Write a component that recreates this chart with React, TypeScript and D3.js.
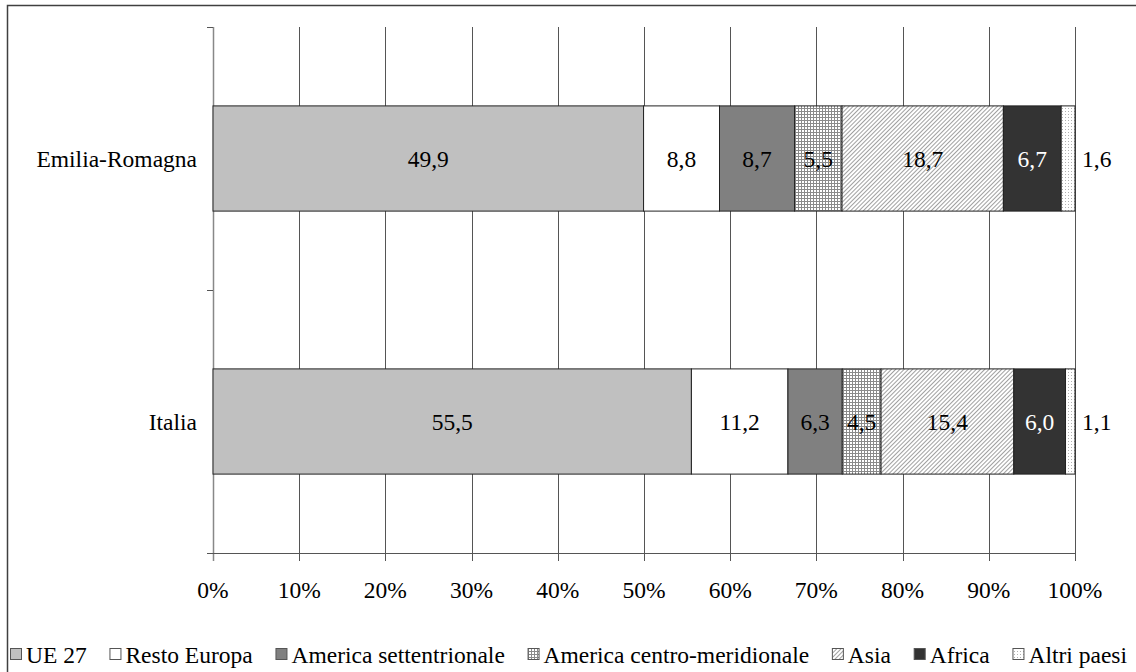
import React, { useLayoutEffect, useRef, useState } from "react";
import * as d3 from "d3";

const categories = ["Emilia-Romagna", "Italia"];
const seriesNames = [
  "UE 27",
  "Resto Europa",
  "America settentrionale",
  "America centro-meridionale",
  "Asia",
  "Africa",
  "Altri paesi",
];
const ue27 = [49.9, 55.5];
const restoEuropa = [8.8, 11.2];
const americaSett = [8.7, 6.3];
const americaCentro = [5.5, 4.5];
const asia = [18.7, 15.4];
const africa = [6.7, 6.0];
const altriPaesi = [1.6, 1.1];
const xTicks = [0, 10, 20, 30, 40, 50, 60, 70, 80, 90, 100];

const seriesValues = [ue27, restoEuropa, americaSett, americaCentro, asia, africa, altriPaesi];
const fills = [
  "#c0c0c0",
  "#ffffff",
  "#808080",
  "url(#pGrid)",
  "url(#pDiag)",
  "#333333",
  "url(#pDots)",
];
const labelColors = ["#000", "#000", "#000", "#000", "#000", "#fff", "#000"];

const W = 1136;
const H = 672;
const FS = 23.5;
const TS: React.CSSProperties = { fontFamily: "'Liberation Serif', 'Times New Roman', serif" };

const fmt = (v: number) => v.toFixed(1).replace(".", ",");

export default function App() {
  const legRefs = useRef<(SVGTextElement | null)[]>([]);
  const [widths, setWidths] = useState<number[]>(seriesNames.map((s) => s.length * FS * 0.45));

  useLayoutEffect(() => {
    const w = legRefs.current.map((el, i) =>
      el ? el.getComputedTextLength() : seriesNames[i].length * FS * 0.45
    );
    if (w.some((v, i) => Math.abs(v - widths[i]) > 0.5)) setWidths(w);
  });

  const x = d3.scaleLinear().domain([0, 1]).range([213, 1075]);
  const y = d3
    .scaleBand<string>()
    .domain(categories)
    .range([27, 553])
    .paddingInner(0.6)
    .paddingOuter(0.3);

  const rows = categories.map((c, i) => {
    const r: Record<string, any> = { cat: c };
    seriesNames.forEach((s, j) => (r[s] = seriesValues[j][i]));
    return r;
  });
  const stacked = d3
    .stack<Record<string, any>>()
    .keys(seriesNames)
    .offset(d3.stackOffsetExpand)(rows);

  const markerW = 12;
  const markerGap = 4;
  const itemWidths = widths.map((w) => markerW + markerGap + w);
  const totalItems = itemWidths.reduce((a, b) => a + b, 0);
  const legStart = 10;
  const legEnd = 1127;
  const gap = (legEnd - legStart - totalItems) / (seriesNames.length - 1);
  const legX: number[] = [];
  let cx = legStart;
  itemWidths.forEach((w) => {
    legX.push(cx);
    cx += w + gap;
  });
  const legY = 655;

  const yAxisTicks = [27, (27 + 553) / 2, 553];

  return (
    <svg
      width={W}
      height={H}
      style={{ position: "absolute", left: 0, top: 0, background: "#fff" }}
    >
      <defs>
        <pattern id="pGrid" width="3" height="3" patternUnits="userSpaceOnUse">
          <rect width="3" height="3" fill="#fff" />
          <rect width="3" height="1" fill="#8a8a8a" />
          <rect width="1" height="3" fill="#8a8a8a" />
        </pattern>
        <pattern
          id="pDiag"
          width="3"
          height="3"
          patternUnits="userSpaceOnUse"
          patternTransform="rotate(45)"
        >
          <rect width="3" height="3" fill="#fff" />
          <rect width="1" height="3" fill="#a0a0a0" />
        </pattern>
        <pattern id="pDots" width="3" height="3" patternUnits="userSpaceOnUse">
          <rect width="3" height="3" fill="#fff" />
          <rect width="1" height="1" fill="#b0b0b0" />
        </pattern>
      </defs>
      <rect width={W} height={H} fill="#fff" />
      <foreignObject x={0} y={0} width={1} height={1}>
        <div style={{ width: 1, height: 1 }} />
      </foreignObject>
      <path d={`M7.5,${H + 10}V5.5H${W + 10}`} fill="none" stroke="#404040" strokeWidth={1.5} />

      {xTicks.map((t) => (
        <line
          key={t}
          x1={Math.round(x(t / 100)) + 0.5}
          x2={Math.round(x(t / 100)) + 0.5}
          y1={27}
          y2={561}
          stroke={t === 0 ? "#888" : "#555"}
          strokeWidth={t === 0 ? 1.5 : 1}
        />
      ))}
      {yAxisTicks.map((t, i) => (
        <line key={i} x1={207} x2={213} y1={Math.round(t) + 0.5} y2={Math.round(t) + 0.5} stroke="#555" />
      ))}
      <line x1={207} x2={1076} y1={553.5} y2={553.5} stroke="#555" />

      {stacked.map((layer, j) =>
        layer.map((d, i) => {
          const cat = categories[i];
          const y0 = y(cat)!;
          const x0 = x(d[0]);
          const x1 = x(d[1]);
          return (
            <rect
              key={`${j}-${i}`}
              x={x0}
              y={y0}
              width={x1 - x0}
              height={y.bandwidth()}
              fill={fills[j]}
              stroke="#222"
              strokeWidth={1}
            />
          );
        })
      )}
      {stacked.map((layer, j) =>
        layer.map((d, i) => {
          const cat = categories[i];
          const yc = y(cat)! + y.bandwidth() / 2;
          const x0 = x(d[0]);
          const x1 = x(d[1]);
          const v = seriesValues[j][i];
          const last = j === seriesNames.length - 1;
          return (
            <text
              key={`l${j}-${i}`}
              x={last ? x(1) + 7 : (x0 + x1) / 2}
              y={yc}
              dy="0.35em"
              textAnchor={last ? "start" : "middle"}
              fontSize={FS}
              fill={labelColors[j]}
              style={TS}
            >
              {fmt(v)}
            </text>
          );
        })
      )}

      {categories.map((c) => (
        <text
          key={c}
          x={197}
          y={y(c)! + y.bandwidth() / 2}
          dy="0.35em"
          textAnchor="end"
          fontSize={FS}
          style={TS}
        >
          {c}
        </text>
      ))}
      {xTicks.map((t) => (
        <text key={t} x={x(t / 100)} y={590} dy="0.35em" textAnchor="middle" fontSize={FS} style={TS}>
          {t}%
        </text>
      ))}

      {seriesNames.map((s, j) => (
        <g key={s}>
          <rect
            x={legX[j] + 0.5}
            y={legY - 6.5}
            width={markerW - 1}
            height={markerW - 1}
            fill={fills[j]}
            stroke="#555"
          />
          <text
            ref={(el) => {
              legRefs.current[j] = el;
            }}
            x={legX[j] + markerW + markerGap}
            y={legY}
            dy="0.35em"
            fontSize={FS}
            style={TS}
          >
            {s}
          </text>
        </g>
      ))}
    </svg>
  );
}
